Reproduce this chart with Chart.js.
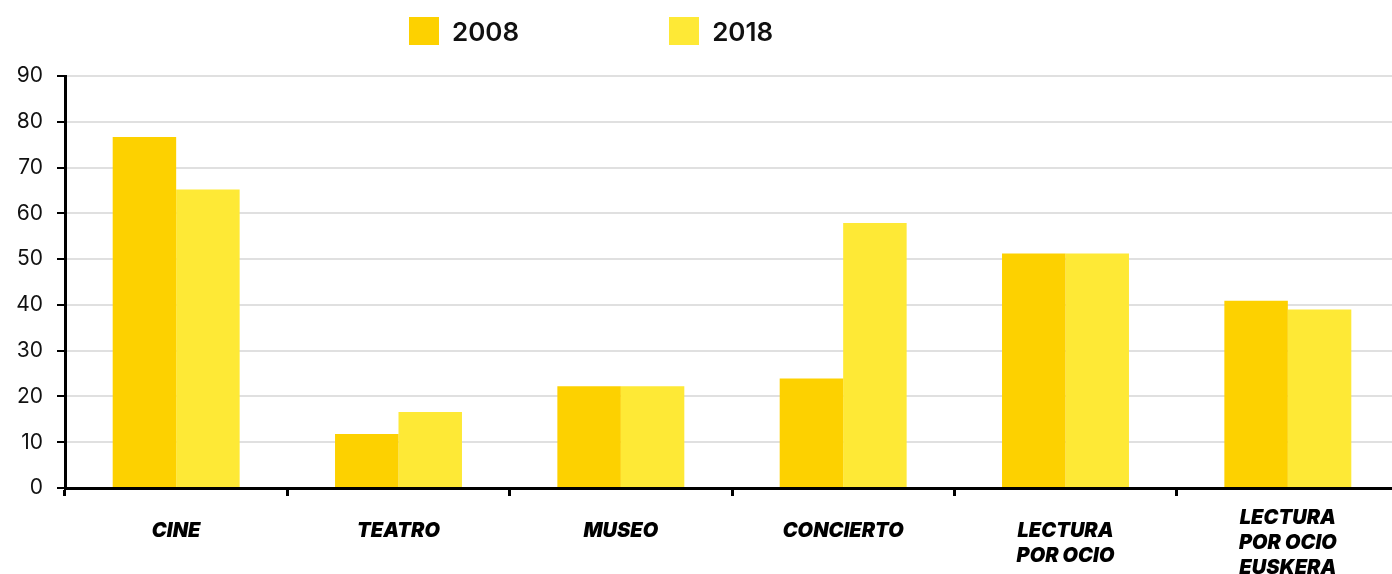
<!DOCTYPE html>
<html>
<head>
<meta charset="utf-8">
<script src="https://cdn.jsdelivr.net/npm/chart.js@4/dist/chart.umd.min.js"></script>
<style>
    body { margin: 0; overflow: hidden; background: #fff; }
    #wrap { position: relative; width: 1399px; height: 574px; }
    #legend { position: absolute; top: 17px; left: 409px; display: flex; font-family: Inter, "Open Sans", sans-serif; font-size: 26px; font-weight: 600; color: #111; }
    #legend .item { display: flex; align-items: center; height: 28px; }
    #legend .box { width: 30px; height: 28px; margin-right: 13px; }
</style>
</head>
<body>
<div id="wrap">
    <canvas id="activityChart"></canvas>
    <div id="legend"></div>
</div>
<script>
// Categories and values (%); single-line names get an empty second line
// so they sit on the same top row as the two-line names
const categories = [
    ['CINE', ''],
    ['TEATRO', ''],
    ['MUSEO', ''],
    ['CONCIERTO', ''],
    ['LECTURA', 'POR OCIO'],
    ['LECTURA', 'POR OCIO', 'EUSKERA']
];
const years = ['2008', '2018'];
const values2008 = [76.7, 11.8, 22.2, 23.9, 51.2, 40.9];
const values2018 = [65.2, 16.6, 22.2, 57.9, 51.2, 39.0];
const yTicks = [0, 10, 20, 30, 40, 50, 60, 70, 80, 90];
const colors = ['#FDD100', '#FEE936'];

const chart = new Chart(document.getElementById('activityChart'), {
    type: 'bar',
    data: {
        labels: categories,
        datasets: [
            { label: years[0], data: values2008, backgroundColor: colors[0] },
            { label: years[1], data: values2018, backgroundColor: colors[1] }
        ]
    },
    options: {
        responsive: true,
        maintainAspectRatio: false,
        animation: false,
        layout: { padding: { top: 76, right: 0, left: 0, bottom: 0 } },
        datasets: {
            bar: { categoryPercentage: 0.571, barPercentage: 1.0, borderWidth: 0 }
        },
        plugins: {
            legend: { display: false },
            tooltip: { enabled: false }
        },
        scales: {
            x: {
                grid: {
                    drawOnChartArea: false,
                    tickLength: 8,
                    tickColor: '#000',
                    tickWidth: 3
                },
                border: { color: '#000', width: 3 },
                ticks: {
                    padding: 22,
                    color: '#000',
                    crossAlign: 'center',
                    font: { family: 'Inter, "Open Sans", sans-serif', size: 20, weight: '900', style: 'italic', lineHeight: 1.25 }
                },
                afterFit: function(scale) { scale.height = 86; }
            },
            y: {
                min: yTicks[0],
                max: yTicks[yTicks.length - 1],
                afterBuildTicks: function(scale) {
                    scale.ticks = yTicks.map(v => ({ value: v }));
                },
                grid: {
                    color: '#e0e0e0',
                    lineWidth: 2,
                    tickLength: 8,
                    tickColor: '#000',
                    tickWidth: 2
                },
                border: { color: '#000', width: 3 },
                ticks: {
                    padding: 14,
                    color: '#111',
                    font: { family: 'Inter, "Open Sans", sans-serif', size: 21 }
                },
                afterFit: function(scale) { scale.width = 65; }
            }
        }
    }
});

// Legend above the plot
const legend = document.getElementById('legend');
chart.data.datasets.forEach(function(ds, i) {
    const item = document.createElement('div');
    item.className = 'item';
    item.style.marginRight = i === 0 ? '150px' : '0';
    const box = document.createElement('span');
    box.className = 'box';
    box.style.background = ds.backgroundColor;
    const text = document.createElement('span');
    text.textContent = ds.label;
    item.appendChild(box);
    item.appendChild(text);
    legend.appendChild(item);
});
</script>
</body>
</html>
